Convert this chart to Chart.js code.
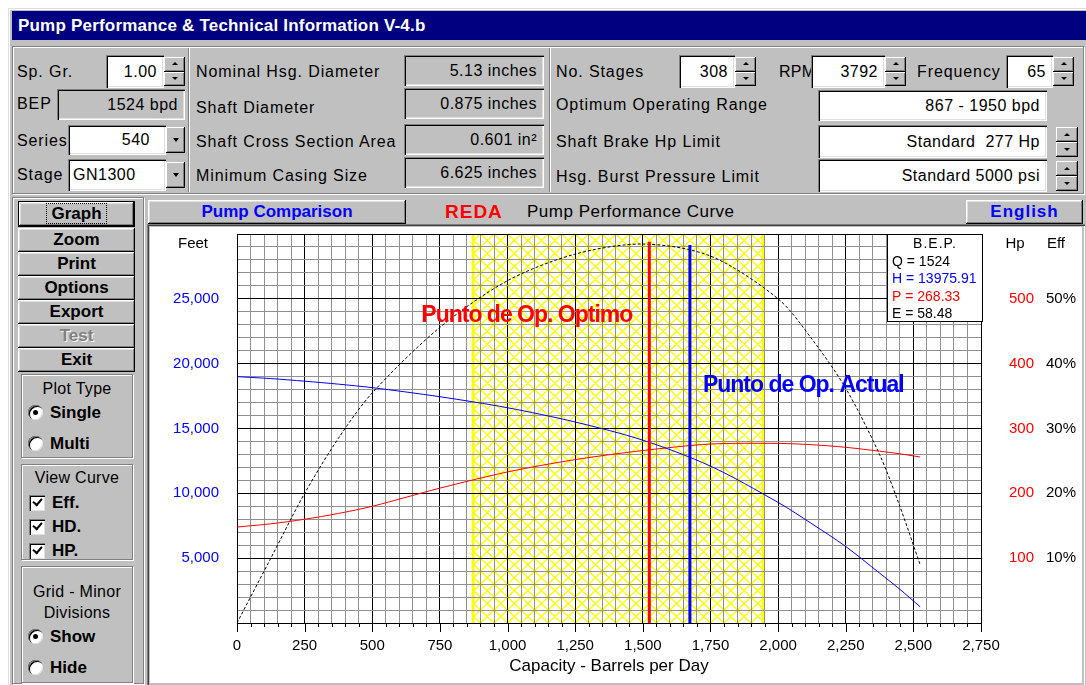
<!DOCTYPE html>
<html>
<head>
<meta charset="utf-8">
<script src="https://cdn.jsdelivr.net/npm/chart.js@4.4.0/dist/chart.umd.min.js"></script>
<style>
body{margin:0;width:1086px;height:685px;overflow:hidden;background:#fff;font-family:"Liberation Sans",Arial,sans-serif;position:relative}
.a{position:absolute;box-sizing:border-box;white-space:nowrap}
#win{left:8px;top:8px;width:1078px;height:677px;background:#c0c0c0;box-shadow:inset 1px 1px #dfdfdf,inset 2px 2px #fff}
#title{left:12px;top:11px;width:1074px;height:29px;background:#000080;color:#fff;font-weight:bold;font-size:17px;line-height:29px;padding-left:6px;letter-spacing:.2px}
.etch{border:1px solid #808080;box-shadow:1px 1px 0 #fff,inset 1px 1px 0 #fff}
.sep{width:2px;border-left:1px solid #808080;border-right:1px solid #fff}
.lbl{font-size:16px;height:20px;line-height:20px;letter-spacing:.9px;color:#000}
.fld{background:#fff;font-size:16px;text-align:right;padding-right:7px;letter-spacing:.5px;box-shadow:inset 1px 1px #808080,inset 2px 2px #000,inset -1px -1px #fff,inset -2px -2px #dfdfdf}
.ro{background:#c0c0c0}
.btn{background:#c0c0c0;text-align:center;font-weight:bold;font-size:17px;box-shadow:inset -1px -1px #000,inset 1px 1px #fff,inset -2px -2px #808080,inset 2px 2px #dfdfdf}
.spin{display:flex;flex-direction:column}
.spin i{flex:1;position:relative;background:#c0c0c0;box-shadow:inset -1px -1px #000,inset 1px 1px #fff,inset -2px -2px #808080}
.spin i::after,.drop::after{content:"";position:absolute;left:50%;top:50%;margin:-2px 0 0 -3px;border-left:3px solid transparent;border-right:3px solid transparent}
.spin i.up::after{border-bottom:3px solid #000}
.spin i.dn::after{border-top:3px solid #000}
.drop{background:#c0c0c0;box-shadow:inset -1px -1px #000,inset 1px 1px #fff,inset -2px -2px #808080}
.drop::after{border-top:4px solid #000;margin:-2px 0 0 -3px}
.radio{width:15px;height:15px;border-radius:50%;background:#fff;box-shadow:inset 1px 1px #808080,inset 2px 2px #000,inset -1px -1px #dfdfdf}
.radio.on::after{content:"";position:absolute;left:5px;top:5px;width:5px;height:5px;border-radius:50%;background:#000}
.chk{width:16px;height:16px;background:#fff;box-shadow:inset 1px 1px #808080,inset 2px 2px #000,inset -1px -1px #dfdfdf}
.chk::after{content:"";position:absolute;left:4px;top:3px;width:7px;height:4px;border-left:2px solid #000;border-bottom:2px solid #000;transform:rotate(-50deg)}
.opt{font-weight:bold;font-size:17px;height:20px;line-height:20px}
.gt{font-size:16px;text-align:center;height:20px;line-height:20px;letter-spacing:.3px}
</style>
</head>
<body>
<div class="a" id="win"></div>
<div class="a" id="title">Pump Performance &amp; Technical Information V-4.b</div>

<!-- top data panel -->
<div class="a etch" style="left:12px;top:46px;width:1072px;height:148px"></div>
<div class="a sep" style="left:188px;top:48px;height:144px"></div>
<div class="a sep" style="left:549px;top:48px;height:144px"></div>

<div class="a lbl" style="left:17px;top:62px">Sp. Gr.</div>
<div class="a fld" style="left:106px;top:55px;width:58px;height:33px;line-height:33px">1.00</div>
<div class="a spin" style="left:164px;top:57px;width:21px;height:29px"><i class="up"></i><i class="dn"></i></div>
<div class="a lbl" style="left:17px;top:94px">BEP</div>
<div class="a fld ro" style="left:57px;top:89px;width:128px;height:31px;line-height:31px">1524 bpd</div>
<div class="a lbl" style="left:17px;top:131px">Series</div>
<div class="a fld" style="left:68px;top:125px;width:98px;height:30px;line-height:30px;padding-right:16px">540</div>
<div class="a drop" style="left:166px;top:127px;width:19px;height:26px"></div>
<div class="a lbl" style="left:17px;top:165px">Stage</div>
<div class="a fld" style="left:68px;top:159px;width:98px;height:32px;line-height:32px;text-align:left;padding-left:5px">GN1300</div>
<div class="a drop" style="left:166px;top:162px;width:19px;height:26px"></div>

<div class="a lbl" style="left:196px;top:62px">Nominal Hsg. Diameter</div>
<div class="a fld ro" style="left:404px;top:55px;width:140px;height:31px;line-height:31px">5.13 inches</div>
<div class="a lbl" style="left:196px;top:98px">Shaft Diameter</div>
<div class="a fld ro" style="left:404px;top:88px;width:140px;height:31px;line-height:31px">0.875 inches</div>
<div class="a lbl" style="left:196px;top:132px">Shaft Cross Section Area</div>
<div class="a fld ro" style="left:404px;top:124px;width:140px;height:31px;line-height:31px">0.601 in²</div>
<div class="a lbl" style="left:196px;top:166px">Minimum Casing Size</div>
<div class="a fld ro" style="left:404px;top:157px;width:140px;height:31px;line-height:31px">6.625 inches</div>

<div class="a lbl" style="left:556px;top:62px">No. Stages</div>
<div class="a fld" style="left:679px;top:55px;width:56px;height:33px;line-height:33px">308</div>
<div class="a spin" style="left:735px;top:57px;width:21px;height:29px"><i class="up"></i><i class="dn"></i></div>
<div class="a lbl" style="left:779px;top:62px;letter-spacing:.3px">RPM</div>
<div class="a fld" style="left:811px;top:55px;width:74px;height:33px;line-height:33px">3792</div>
<div class="a spin" style="left:885px;top:57px;width:21px;height:29px"><i class="up"></i><i class="dn"></i></div>
<div class="a lbl" style="left:917px;top:62px">Frequency</div>
<div class="a fld" style="left:1006px;top:55px;width:47px;height:33px;line-height:33px">65</div>
<div class="a spin" style="left:1053px;top:57px;width:21px;height:29px"><i class="up"></i><i class="dn"></i></div>
<div class="a lbl" style="left:556px;top:95px">Optimum Operating Range</div>
<div class="a fld" style="left:818px;top:90px;width:229px;height:31px;line-height:31px">867 - 1950 bpd</div>
<div class="a lbl" style="left:556px;top:132px">Shaft Brake Hp Limit</div>
<div class="a fld" style="left:818px;top:125px;width:229px;height:33px;line-height:33px">Standard&nbsp; 277 Hp</div>
<div class="a spin" style="left:1056px;top:127px;width:22px;height:30px"><i class="up"></i><i class="dn"></i></div>
<div class="a lbl" style="left:556px;top:167px">Hsg. Burst Pressure Limit</div>
<div class="a fld" style="left:818px;top:159px;width:229px;height:33px;line-height:33px">Standard 5000 psi</div>
<div class="a spin" style="left:1056px;top:161px;width:22px;height:30px"><i class="up"></i><i class="dn"></i></div>

<!-- left command column -->
<div class="a etch" style="left:12px;top:197px;width:132px;height:487px"></div>
<div class="a btn" style="left:18px;top:201px;width:117px;height:26px;line-height:24px;border:1px solid #000"><span style="border:1px dotted #000;padding:0 4px">Graph</span></div>
<div class="a btn" style="left:18px;top:228px;width:117px;height:24px;line-height:24px">Zoom</div>
<div class="a btn" style="left:18px;top:252px;width:117px;height:24px;line-height:24px">Print</div>
<div class="a btn" style="left:18px;top:276px;width:117px;height:24px;line-height:24px">Options</div>
<div class="a btn" style="left:18px;top:300px;width:117px;height:24px;line-height:24px">Export</div>
<div class="a btn" style="left:18px;top:324px;width:117px;height:24px;line-height:24px;color:#808080;text-shadow:1px 1px #fff">Test</div>
<div class="a btn" style="left:18px;top:348px;width:117px;height:24px;line-height:24px">Exit</div>

<div class="a etch" style="left:21px;top:374px;width:112px;height:84px"></div>
<div class="a gt" style="left:21px;top:379px;width:112px">Plot Type</div>
<div class="a radio on" style="left:28px;top:405px"></div>
<div class="a opt" style="left:50px;top:403px">Single</div>
<div class="a radio" style="left:28px;top:436px"></div>
<div class="a opt" style="left:50px;top:434px">Multi</div>

<div class="a etch" style="left:21px;top:464px;width:112px;height:96px"></div>
<div class="a gt" style="left:21px;top:468px;width:112px">View Curve</div>
<div class="a chk" style="left:29px;top:495px"></div>
<div class="a opt" style="left:52px;top:493px">Eff.</div>
<div class="a chk" style="left:29px;top:519px"></div>
<div class="a opt" style="left:52px;top:517px">HD.</div>
<div class="a chk" style="left:29px;top:543px"></div>
<div class="a opt" style="left:52px;top:541px">HP.</div>

<div class="a etch" style="left:21px;top:566px;width:112px;height:117px"></div>
<div class="a gt" style="left:21px;top:582px;width:112px">Grid - Minor</div>
<div class="a gt" style="left:21px;top:603px;width:112px">Divisions</div>
<div class="a radio on" style="left:28px;top:629px"></div>
<div class="a opt" style="left:50px;top:627px">Show</div>
<div class="a radio" style="left:28px;top:660px"></div>
<div class="a opt" style="left:50px;top:658px">Hide</div>

<!-- chart header -->
<div class="a btn" style="left:148px;top:200px;width:258px;height:24px;line-height:24px;color:#0000ff">Pump Comparison</div>
<div class="a" style="left:445px;top:200px;height:24px;line-height:24px;font-weight:bold;font-size:19px;letter-spacing:1px;color:#ff0000">REDA</div>
<div class="a" style="left:527px;top:200px;height:24px;line-height:24px;font-size:17px;letter-spacing:.5px">Pump Performance Curve</div>
<div class="a btn" style="left:966px;top:200px;width:117px;height:24px;line-height:24px;color:#0000ff;letter-spacing:1px">English</div>

<!-- chart panel -->
<div class="a" style="left:147px;top:224px;width:938px;height:462px;box-shadow:inset 1px 1px #808080,inset 2px 2px #404040,inset -1px -1px #fff"></div>
<div class="a" style="left:150px;top:227px;width:932px;height:456px;background:#fff">
  <canvas id="pumpChart" width="932" height="456"></canvas>
</div>

<script>
// pump curve readings (capacity in barrels per day)
const capacity = [0, 125, 250, 375, 500, 750, 1000, 1250, 1500, 1750, 2000, 2125, 2250, 2375, 2450, 2525];
const headFeet = [19000, 18850, 18650, 18420, 18150, 17450, 16600, 15500, 14100, 12100, 9300, 7650, 5900, 3850, 2600, 1250];
const brakeHp = [148, 153, 160, 169, 180, 208, 233, 252, 266, 276, 277, 275, 271, 265, 261, 256];
const efficiency = [0, 10, 20, 28.5, 35.5, 45.6, 52.8, 56.9, 58.45, 56.6, 50, 43.8, 36.2, 26, 18, 9];

// operating points and range
const optimumRange = [867, 1950];
const optimumQ = 1524, optimumTop = 29400;
const actualQ = 1674, actualTop = 29150;
const bep = {q: '1524', h: '13975.91', p: '268.33', e: '58.48'};

// tick labels
const capacityTicks = [0, 250, 500, 750, 1000, 1250, 1500, 1750, 2000, 2250, 2500, 2750];
const feetTicks = [5000, 10000, 15000, 20000, 25000];
const hpTicks = [100, 200, 300, 400, 500];
const effTicks = [10, 20, 30, 40, 50];

Chart.defaults.font.family = '"Liberation Sans", Arial, sans-serif';
Chart.defaults.font.size = 15;
Chart.defaults.color = '#000';

function pts(ys) {
    return capacity.map(function (q, i) { return {x: q, y: ys[i]}; });
}

const overlay = {
    id: 'overlay',
    beforeDraw: function (chart) {
        // yellow cross-hatched optimum operating range, under the grid
        const ctx = chart.ctx, a = chart.chartArea, x = chart.scales.x, y = chart.scales.y;
        const x0 = x.getPixelForValue(optimumRange[0]);
        const x1 = x.getPixelForValue(optimumRange[1]);
        const dx = x.getPixelForValue(50) - x.getPixelForValue(0);
        const dy = y.getPixelForValue(0) - y.getPixelForValue(1000);
        const run = a.height * dx / dy;
        ctx.save();
        ctx.beginPath();
        ctx.rect(x0, a.top, x1 - x0, a.height);
        ctx.clip();
        ctx.strokeStyle = '#ffff00';
        ctx.lineWidth = 1.4;
        ctx.beginPath();
        for (let k = -40; k < 100; k++) {
            const sx = a.left + k * dx;
            ctx.moveTo(sx, a.bottom); ctx.lineTo(sx + run, a.top);
            ctx.moveTo(sx, a.top); ctx.lineTo(sx + run, a.bottom);
        }
        ctx.stroke();
        ctx.lineWidth = 3;
        ctx.beginPath();
        ctx.moveTo(x0 + 1.5, a.top); ctx.lineTo(x0 + 1.5, a.bottom);
        ctx.moveTo(x1 - 1.5, a.top); ctx.lineTo(x1 - 1.5, a.bottom);
        ctx.stroke();
        ctx.restore();
    },
    afterDraw: function (chart) {
        const ctx = chart.ctx, a = chart.chartArea, x = chart.scales.x, y = chart.scales.y;
        ctx.save();
        // bottom tick marks
        ctx.strokeStyle = '#000';
        ctx.lineWidth = 1;
        ctx.beginPath();
        x.ticks.forEach(function (t) {
            const px = Math.round(x.getPixelForValue(t.value)) + 0.5;
            const len = capacityTicks.includes(t.value) ? 9 : 4;
            ctx.moveTo(px, a.bottom); ctx.lineTo(px, a.bottom + len);
        });
        ctx.stroke();

        // axis headings
        ctx.font = '15px "Liberation Sans", Arial';
        ctx.textBaseline = 'middle';
        ctx.fillStyle = '#000';
        ctx.textAlign = 'center';
        ctx.fillText('Feet', a.left - 44, a.top + 10);
        ctx.fillText('Hp', chart.scales.hp.left + 34, a.top + 10);
        ctx.fillText('Eff', chart.scales.eff.left + 16, a.top + 10);

        // operating point labels
        ctx.font = 'bold 23px "Liberation Sans", Arial';
        ctx.letterSpacing = '-1px';
        ctx.textBaseline = 'alphabetic';
        ctx.textAlign = 'right';
        ctx.fillStyle = '#ff0000';
        ctx.fillText('Punto de Op. Optimo', x.getPixelForValue(optimumQ) - 17, y.getPixelForValue(23200));
        ctx.textAlign = 'left';
        ctx.fillStyle = '#0000ff';
        ctx.fillText('Punto de Op. Actual', x.getPixelForValue(actualQ) + 13, y.getPixelForValue(17800));
        ctx.letterSpacing = '0px';

        // B.E.P. box
        const bw = 96, bh = 88, bx = a.right + 2 - bw, by = a.top;
        ctx.fillStyle = '#fff';
        ctx.fillRect(bx, by, bw, bh);
        ctx.font = '14px "Liberation Sans", Arial';
        ctx.textBaseline = 'middle';
        ctx.textAlign = 'center';
        ctx.fillStyle = '#000';
        ctx.letterSpacing = '1px';
        ctx.fillText('B.E.P.', bx + bw / 2, by + 10);
        ctx.letterSpacing = '0px';
        ctx.textAlign = 'left';
        const rows = [['Q = ' + bep.q, '#000'], ['H = ' + bep.h, '#0000ff'], ['P = ' + bep.p, '#ff0000'], ['E = ' + bep.e, '#000']];
        rows.forEach(function (r, i) {
            ctx.fillStyle = r[1];
            ctx.fillText(r[0], bx + 5, by + 28 + i * 17.5);
        });
        ctx.strokeStyle = '#000';
        ctx.strokeRect(bx + 0.5, by + 0.5, bw - 1, bh - 1);
        ctx.restore();
    }
};

// fixed axis boxes so the plot area sits where the original has it
function fixWidth(w) {
    return function (s) { s.width = w; s.paddingTop = 0; s.paddingBottom = 0; };
}

new Chart(document.getElementById('pumpChart'), {
    type: 'line',
    data: {
        datasets: [
            {label: 'Optimo', data: [{x: optimumQ, y: 0}, {x: optimumQ, y: optimumTop}], borderColor: '#ff0000', borderWidth: 3, yAxisID: 'y'},
            {label: 'Actual', data: [{x: actualQ, y: 0}, {x: actualQ, y: actualTop}], borderColor: '#0000ff', borderWidth: 3, yAxisID: 'y'},
            {label: 'HD', data: pts(headFeet), borderColor: '#0000ff', borderWidth: 1, tension: 0.3, yAxisID: 'y'},
            {label: 'HP', data: pts(brakeHp), borderColor: '#ff0000', borderWidth: 1, tension: 0.3, yAxisID: 'hp'},
            {label: 'Eff', data: pts(efficiency), borderColor: '#000', borderWidth: 1, borderDash: [3, 2], tension: 0.3, yAxisID: 'eff'}
        ]
    },
    options: {
        responsive: false,
        animation: false,
        events: [],
        layout: {padding: {top: 7, left: 0, right: 0, bottom: 0}},
        elements: {point: {radius: 0}},
        plugins: {legend: {display: false}, tooltip: {enabled: false}},
        scales: {
            x: {
                type: 'linear', min: 0, max: 2750,
                afterFit: function (s) { s.height = 60; s.paddingLeft = 0; s.paddingRight = 0; },
                border: {color: '#000'},
                grid: {
                    drawTicks: false,
                    color: function (c) { return capacityTicks.includes(c.tick.value) ? '#000' : '#909090'; }
                },
                ticks: {
                    stepSize: 50, autoSkip: false, maxRotation: 0, padding: 14,
                    callback: function (v) { return capacityTicks.includes(v) ? v.toLocaleString('en-US') : ''; }
                },
                title: {display: true, text: 'Capacity - Barrels per Day', font: {size: 17}, padding: {top: 0, bottom: 6}}
            },
            y: {
                position: 'left', min: 0, max: 30000,
                afterFit: fixWidth(87),
                border: {color: '#000'},
                grid: {
                    drawTicks: false,
                    color: function (c) { return c.tick.value % 5000 === 0 ? '#000' : '#909090'; }
                },
                ticks: {
                    stepSize: 1000, autoSkip: false, padding: 18, color: '#0000ff',
                    callback: function (v) { return feetTicks.includes(v) ? v.toLocaleString('en-US') : ''; }
                }
            },
            hp: {
                position: 'right', weight: 1, min: 0, max: 600,
                afterFit: fixWidth(59),
                border: {display: false},
                grid: {display: false, drawTicks: false},
                ticks: {
                    stepSize: 100, padding: 28, color: '#ff0000',
                    callback: function (v) { return hpTicks.includes(v) ? String(v) : ''; }
                }
            },
            eff: {
                position: 'right', weight: 2, min: 0, max: 60,
                afterFit: fixWidth(42),
                border: {display: false},
                grid: {display: false, drawTicks: false},
                ticks: {
                    stepSize: 10, padding: 6, color: '#000',
                    callback: function (v) { return effTicks.includes(v) ? v + '%' : ''; }
                }
            }
        }
    },
    plugins: [overlay]
});
</script>
</body>
</html>
